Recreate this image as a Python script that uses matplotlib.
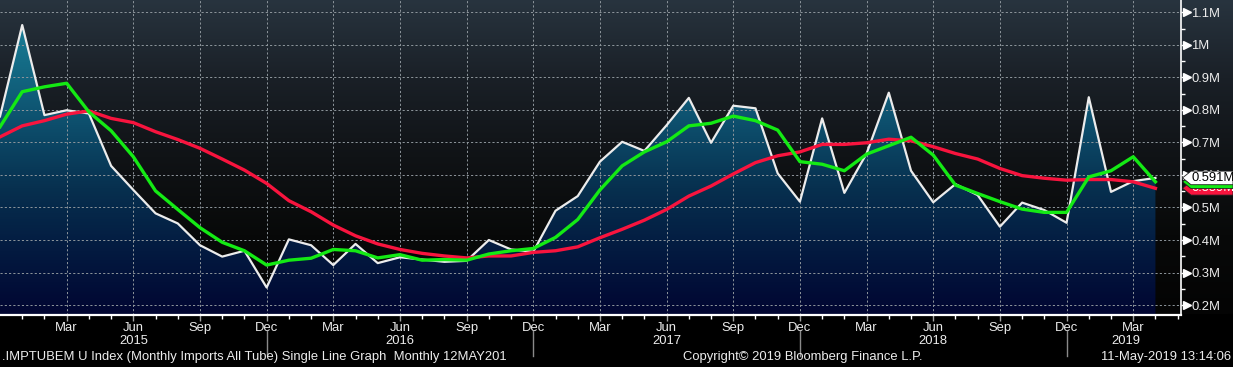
import numpy as np
import matplotlib
matplotlib.use("Agg")
import matplotlib.pyplot as plt
from matplotlib.colors import LinearSegmentedColormap
from matplotlib.patches import Polygon
from matplotlib.lines import Line2D
import matplotlib.transforms as mtransforms

FONT = ['Liberation Sans Narrow', 'Liberation Sans', 'DejaVu Sans']
plt.rcParams['font.family'] = FONT

# ---------------- data (millions), monthly Dec-2014 .. Apr-2019 ----------------
start_year, start_month = 2014, 12
imports = [0.780,
           1.061, 0.784, 0.799, 0.789, 0.628, 0.554, 0.482, 0.451, 0.384, 0.349, 0.367, 0.254,
           0.402, 0.384, 0.323, 0.388, 0.329, 0.347, 0.340, 0.333, 0.336, 0.400, 0.371, 0.364,
           0.490, 0.535, 0.641, 0.702, 0.674, 0.753, 0.837, 0.699, 0.813, 0.805, 0.605, 0.518,
           0.774, 0.545, 0.666, 0.853, 0.613, 0.516, 0.572, 0.538, 0.441, 0.515, 0.492, 0.453,
           0.839, 0.548, 0.581, 0.591]
avg_3m = [0.748,
          0.856, 0.871, 0.882, 0.794, 0.736, 0.656, 0.551, 0.494, 0.438, 0.393, 0.367, 0.323,
          0.338, 0.344, 0.371, 0.367, 0.345, 0.355, 0.338, 0.340, 0.338, 0.357, 0.367, 0.374,
          0.408, 0.463, 0.554, 0.628, 0.671, 0.702, 0.751, 0.759, 0.781, 0.767, 0.738, 0.641,
          0.633, 0.613, 0.664, 0.690, 0.716, 0.661, 0.569, 0.543, 0.518, 0.495, 0.485, 0.485,
          0.594, 0.613, 0.656, 0.579]
avg_12m = [0.717,
           0.751, 0.767, 0.787, 0.797, 0.774, 0.761, 0.733, 0.709, 0.682, 0.649, 0.615, 0.574,
           0.521, 0.487, 0.446, 0.413, 0.388, 0.371, 0.359, 0.351, 0.345, 0.351, 0.351, 0.362,
           0.367, 0.379, 0.407, 0.433, 0.461, 0.494, 0.535, 0.566, 0.603, 0.638, 0.659, 0.671,
           0.694, 0.694, 0.699, 0.710, 0.705, 0.687, 0.666, 0.649, 0.620, 0.598, 0.590, 0.584,
           0.586, 0.586, 0.579, 0.559]
y_ticks = [0.2, 0.3, 0.4, 0.5, 0.6, 0.7, 0.8, 0.9, 1.0, 1.1]
y_tick_labels = ['0.2M', '0.3M', '0.4M', '0.5M', '0.6M', '0.7M', '0.8M', '0.9M', '1M', '1.1M']
quarter_names = {3: 'Mar', 6: 'Jun', 9: 'Sep', 12: 'Dec'}
last_labels = ['0.591M', '0.579M', '0.559M']
footer_left = '.IMPTUBEM U Index (Monthly Imports All Tube) Single Line Graph  Monthly 12MAY201'
footer_mid = 'Copyright\u00a9 2019 Bloomberg Finance L.P.'
footer_right = '11-May-2019 13:14:06'

# ---------------- layout ----------------
W, H = 1233, 367
AX_R = 1181.0
AX_B = 314.5
WHITE = '#ececec'
GREEN = '#14ea14'
RED = '#f8143e'
FS = 9.4

n = len(imports)
x = np.arange(n)
months = [(start_month - 1 + i) % 12 + 1 for i in range(n)]
years = [start_year + (start_month - 1 + i) // 12 for i in range(n)]

fig = plt.figure(figsize=(W / 100, H / 100), dpi=100, facecolor='black')

# background gradient of plotting region (spans to right edge)
bg = fig.add_axes([0, (H - AX_B) / H, 1, AX_B / H], zorder=0)
bg_cmap = LinearSegmentedColormap.from_list('bg', ['#28343f', '#1a2027', '#101316', '#080909', '#040404'])
bg.imshow(np.linspace(0, 1, 256).reshape(-1, 1), aspect='auto', cmap=bg_cmap,
          extent=[0, 1, 0, 1], origin='upper')
bg.axis('off')

ax = fig.add_axes([0, (H - AX_B) / H, AX_R / W, AX_B / H], zorder=1)
ax.set_facecolor('none')
xmax = (n - 1) + 1.15
ymin, ymax = 0.171, 1.138
ax.set_xlim(0, xmax)
ax.set_ylim(ymin, ymax)

# gradient area fill under the main series
verts = [(x[0], ymin)] + list(zip(x, imports)) + [(x[-1], ymin)]
poly = Polygon(verts, closed=True, facecolor='none', edgecolor='none')
ax.add_patch(poly)
fill_cmap = LinearSegmentedColormap.from_list(
    'fill', ['#1c8aa2', '#146c86', '#0d4e6c', '#07304f', '#031a40', '#010632'])
im = ax.imshow(np.linspace(0, 1, 256).reshape(-1, 1), aspect='auto', cmap=fill_cmap,
               extent=[x[0], x[-1], ymin, ymax], origin='upper', zorder=1)
im.set_clip_path(poly)

# grid
ax.set_yticks(y_ticks)
ax.set_yticks(np.arange(0.25, 1.14, 0.1), minor=True)
major_x = [i for i in range(1, n) if months[i] in quarter_names]
ax.set_xticks(major_x)
ax.set_xticklabels([quarter_names[months[i]] for i in major_x])
ax.set_xticks(list(range(1, int(xmax) + 1)), minor=True)
ax.grid(True, which='major', color='#8e969c', lw=0.7, ls=(0, (2.2, 2.2)), zorder=2)

# lines
ax.plot(x, imports, color=WHITE, lw=1.6, zorder=3)
ax.plot(x, avg_12m, color=RED, lw=2.4, zorder=4)
ax.plot(x, avg_3m, color=GREEN, lw=2.4, zorder=5)

# spines / ticks
for s in ['top', 'left']:
    ax.spines[s].set_visible(False)
ax.spines['bottom'].set_color('white')
ax.spines['bottom'].set_linewidth(1.6)
ax.spines['right'].set_color('white')
ax.spines['right'].set_linewidth(1.2)
ax.yaxis.tick_right()
ax.yaxis.set_label_position('right')
ax.set_yticklabels(y_tick_labels)
ax.tick_params(axis='y', which='major', length=4, width=1, color='white',
               labelcolor=WHITE, labelsize=FS, pad=3.5, direction='out')
ax.tick_params(axis='y', which='minor', length=3, width=1, color='white', direction='out')
ax.tick_params(axis='x', which='major', length=4.5, width=1, color='#a0a0a0',
               labelcolor=WHITE, labelsize=FS, pad=0.8, direction='out')
ax.tick_params(axis='x', which='minor', length=3, width=1, color='white', direction='out')

# triangle markers on right axis major ticks
tri_tr = mtransforms.blended_transform_factory(ax.transAxes, ax.transData) + \
    mtransforms.ScaledTranslation(5.5 / 100, 0, fig.dpi_scale_trans)
ax.plot([1.0] * len(y_ticks), y_ticks, ls='none', marker='>', ms=5.5, color='white',
        mec='white', transform=tri_tr, clip_on=False, zorder=6)

# year labels and separators
sep_tr = mtransforms.blended_transform_factory(ax.transData, fig.transFigure)
uniq_years = sorted(set(years))
for yr in uniq_years:
    idx = [i for i in range(n) if years[i] == yr]
    if yr == start_year:
        continue
    jun = [i for i in idx if months[i] == 6]
    if jun:
        xc = jun[0]
    else:
        xc = (idx[0] - 0.8 + xmax) / 2
    ax.text(xc, (H - 341) / H, str(yr), transform=sep_tr, ha='center', va='center',
            color=WHITE, fontsize=FS)
for i in range(1, n):
    if months[i] == 12:
        fig.add_artist(Line2D([i, i], [(H - 356) / H, (H - 331) / H], transform=sep_tr,
                              color='#8a8a8a', lw=1))

# footer
fig.text(2 / W, (H - 357) / H, footer_left, ha='left', va='center', color=WHITE, fontsize=FS)
fig.text(803 / W, (H - 357) / H, footer_mid, ha='center', va='center', color=WHITE, fontsize=FS)
fig.text(1231 / W, (H - 357) / H, footer_right, ha='right', va='center', color=WHITE, fontsize=FS)

# last-value tags on right (drawn bottom to top: 12m avg, 3m avg, imports)
tags = [(avg_12m[-1], RED, 'white', last_labels[2]),
        (avg_3m[-1], GREEN, 'black', None),
        (imports[-1], 'white', 'black', last_labels[0])]
for k, (val, fc, tc, lab) in enumerate(tags):
    yc = ax.transData.transform((0, val))[1]
    hh = 6.8
    pts = [(1182.5, yc), (1191, yc + hh), (1233, yc + hh), (1233, yc - hh), (1191, yc - hh)]
    pts = [(px / W, py / H) for px, py in pts]
    fig.add_artist(Polygon(pts, closed=True, facecolor=fc, edgecolor='#202020', lw=0.6,
                           transform=fig.transFigure, zorder=10 + 2 * k))
    if lab:
        fig.text(1191.5 / W, yc / H, lab, ha='left', va='center', color=tc, fontsize=FS,
                 zorder=11 + 2 * k)

fig.savefig('out.png', dpi=100, facecolor='black')
